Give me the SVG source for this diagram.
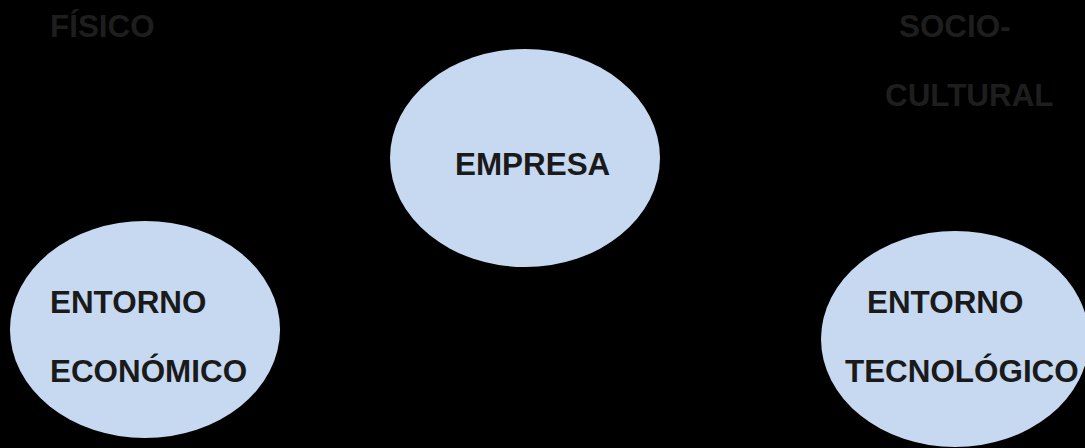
<svg xmlns="http://www.w3.org/2000/svg" width="1085" height="448" viewBox="0 0 1085 448">
  <style>
    .node { fill: #c6d9f1; }
    .label { font-family: "Liberation Sans", Arial, sans-serif; font-weight: bold; font-size: 31.4px; fill: #1a1a1a; }
    .dim { font-family: "Liberation Sans", Arial, sans-serif; font-weight: bold; font-size: 31.4px; fill: #1e1e1e; }
  </style>
  <rect x="0" y="0" width="1085" height="448" fill="#000000"/>
  <g id="labels-outer">
    <text class="dim" x="50" y="37">FÍSICO</text>
    <text class="dim" x="899" y="37">SOCIO-</text>
    <text class="dim" x="885" y="106">CULTURAL</text>
  </g>
  <g id="empresa">
    <ellipse class="node" cx="525" cy="158" rx="135" ry="109"/>
    <text class="label" x="455" y="175">EMPRESA</text>
  </g>
  <g id="entorno-economico">
    <ellipse class="node" cx="145" cy="329.5" rx="135" ry="108.5"/>
    <text class="label" x="50" y="313">ENTORNO</text>
    <text class="label" x="50" y="382">ECONÓMICO</text>
  </g>
  <g id="entorno-tecnologico">
    <ellipse class="node" cx="955" cy="339" rx="134" ry="108"/>
    <text class="label" x="867" y="313">ENTORNO</text>
    <text class="label" x="845" y="382">TECNOLÓGICO</text>
  </g>
  <g id="connectors"/>
</svg>
